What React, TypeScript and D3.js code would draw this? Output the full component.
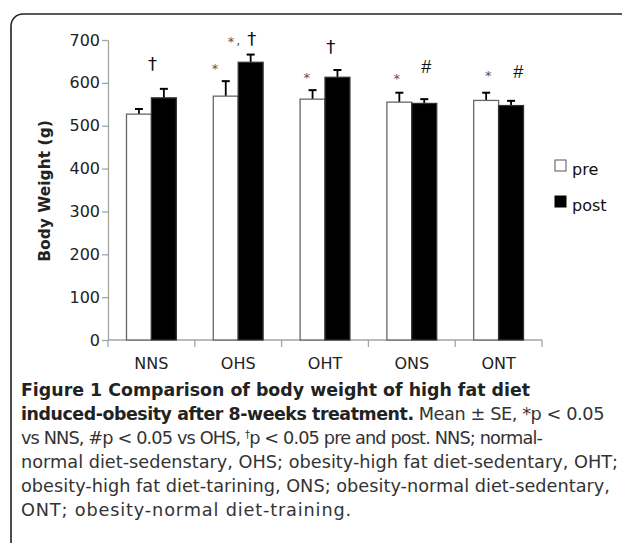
import React, { useEffect, useRef } from "react";
import * as d3 from "d3";

const categories = ["NNS", "OHS", "OHT", "ONS", "ONT"];
const series = ["pre", "post"];
const preMean = [527, 569, 562, 555, 559];
const preSE = [12, 35, 21, 22, 18];
const postMean = [565, 648, 613, 552, 547];
const postSE = [21, 18, 17, 10, 11];
const yTicks = [0, 100, 200, 300, 400, 500, 600, 700];

// significance marks: slot is in bar widths from group centre, level in grams
const marks = [
  { cat: "NNS", text: "†", slot: 0.04, level: 643 },
  { cat: "OHS", text: "*", slot: -0.93, level: 642 },
  { cat: "OHS", text: "*", slot: -0.29, level: 705 },
  { cat: "OHS", text: ",", slot: 0.0, level: 690 },
  { cat: "OHS", text: "†", slot: 0.54, level: 701 },
  { cat: "OHT", text: "*", slot: -0.73, level: 621 },
  { cat: "OHT", text: "†", slot: 0.23, level: 682 },
  { cat: "ONS", text: "*", slot: -0.6, level: 618 },
  { cat: "ONS", text: "#", slot: 0.57, level: 637 },
  { cat: "ONT", text: "*", slot: -0.42, level: 626 },
  { cat: "ONT", text: "#", slot: 0.78, level: 626 },
];

// caption lines: pieces of [text, style], and the x where each printed line ends
const captionLines = [
  { end: 530, parts: [["Figure 1 Comparison of body weight of high fat diet", "b"]] },
  {
    end: 604,
    parts: [
      ["induced-obesity after 8-weeks treatment.", "b"],
      [" Mean ± SE, *p < 0.05", "r"],
    ],
  },
  {
    end: 542,
    parts: [
      ["vs NNS, #p < 0.05 vs OHS, ", "r"],
      ["†", "sup"],
      ["p < 0.05 pre and post. NNS; normal-", "r"],
    ],
  },
  { end: 618, parts: [["normal diet-sedenstary, OHS; obesity-high fat diet-sedentary, OHT;", "r"]] },
  { end: 610, parts: [["obesity-high fat diet-tarining, ONS; obesity-normal diet-sedentary,", "r"]] },
  { end: 352, parts: [["ONT; obesity-normal diet-training.", "r"]] },
];

const App = () => {
  const svgRef = useRef(null);

  useEffect(() => {
    const svg = d3.select(svgRef.current);
    svg.selectAll("*").remove();

    const W = 622;
    const H = 543;
    const left = 108;
    const right = 542;
    const top = 40;
    const bottom = 340;
    const font = "DejaVu Sans, sans-serif";
    const capFont = "'DejaVu Sans', sans-serif";

    svg.append("rect").attr("width", W).attr("height", H).attr("fill", "#fff");

    // frame of the figure panel (only top and left edges are in view)
    svg
      .append("path")
      .attr("d", `M11,${H + 2} V26 A12,12 0 0 1 23,14 H${W + 2}`)
      .attr("fill", "none")
      .attr("stroke", "#222")
      .attr("stroke-width", 1.6);

    const x0 = d3.scaleBand().domain(categories).range([left, right]);
    const bw = x0.bandwidth();
    const x1 = d3
      .scaleBand()
      .domain(series)
      .range([bw * 0.213, bw * 0.787]);
    const y = d3.scaleLinear().domain([0, 700]).range([bottom, top]);

    const axisColor = "#a5a5a5";

    // y axis
    const yAxis = svg
      .append("g")
      .attr("transform", `translate(${left},0)`)
      .call(d3.axisLeft(y).tickValues(yTicks).tickSize(6).tickSizeOuter(0).tickPadding(2));
    yAxis.select(".domain").attr("stroke", axisColor).attr("stroke-width", 1.3);
    yAxis.selectAll(".tick line").attr("stroke", axisColor).attr("stroke-width", 1.3);
    yAxis
      .selectAll(".tick text")
      .attr("font-family", font)
      .attr("font-size", 16)
      .attr("fill", "#222");

    // x axis with ticks between groups
    const xg = svg.append("g");
    xg.append("line")
      .attr("x1", left)
      .attr("x2", right)
      .attr("y1", bottom)
      .attr("y2", bottom)
      .attr("stroke", axisColor)
      .attr("stroke-width", 1.3);
    const bounds = categories.map((c) => x0(c)).concat([right]);
    xg.selectAll(".xt")
      .data(bounds)
      .enter()
      .append("line")
      .attr("x1", (d) => d)
      .attr("x2", (d) => d)
      .attr("y1", bottom)
      .attr("y2", bottom + 7)
      .attr("stroke", axisColor)
      .attr("stroke-width", 1.3);
    xg.selectAll(".xl")
      .data(categories)
      .enter()
      .append("text")
      .attr("x", (d) => x0(d) + bw / 2)
      .attr("y", 369)
      .attr("text-anchor", "middle")
      .attr("font-family", font)
      .attr("font-size", 16)
      .attr("fill", "#222")
      .text((d) => d);

    // y label
    svg
      .append("text")
      .attr("transform", `translate(50,191) rotate(-90)`)
      .attr("text-anchor", "middle")
      .attr("font-family", font)
      .attr("font-weight", "bold")
      .attr("font-size", 15.5)
      .attr("fill", "#222")
      .text("Body Weight (g)");

    const rows = categories.map((c, i) => ({
      cat: c,
      vals: [
        { key: "pre", mean: preMean[i], se: preSE[i] },
        { key: "post", mean: postMean[i], se: postSE[i] },
      ],
    }));

    const groups = svg
      .selectAll(".grp")
      .data(rows)
      .enter()
      .append("g")
      .attr("transform", (d) => `translate(${x0(d.cat)},0)`);

    const bars = groups
      .selectAll(".bar")
      .data((d) => d.vals)
      .enter()
      .append("g");

    // error bars (upper only)
    bars
      .append("line")
      .attr("x1", (d) => x1(d.key) + x1.bandwidth() / 2)
      .attr("x2", (d) => x1(d.key) + x1.bandwidth() / 2)
      .attr("y1", (d) => y(d.mean))
      .attr("y2", (d) => y(d.mean + d.se))
      .attr("stroke", "#000")
      .attr("stroke-width", 1.8);
    bars
      .append("line")
      .attr("x1", (d) => x1(d.key) + x1.bandwidth() / 2 - 4)
      .attr("x2", (d) => x1(d.key) + x1.bandwidth() / 2 + 4)
      .attr("y1", (d) => y(d.mean + d.se))
      .attr("y2", (d) => y(d.mean + d.se))
      .attr("stroke", "#000")
      .attr("stroke-width", 2);

    bars
      .append("rect")
      .attr("x", (d) => x1(d.key))
      .attr("width", x1.bandwidth())
      .attr("y", (d) => y(d.mean))
      .attr("height", (d) => bottom - y(d.mean))
      .attr("fill", (d) => (d.key === "pre" ? "#fff" : "#000"))
      .attr("stroke", (d) => (d.key === "pre" ? "#666" : "#333"))
      .attr("stroke-width", 1.3);

    // significance marks
    const baseShift = { "*": 0.62, "†": 0.32, "#": 0.36, ",": 0.05 };
    const sizes = { "*": 13, "†": 18, "#": 18, ",": 13 };
    svg
      .selectAll(".mark")
      .data(marks)
      .enter()
      .append("text")
      .attr("x", (d) => x0(d.cat) + bw / 2 + d.slot * x1.bandwidth())
      .attr("y", (d) => y(d.level) + baseShift[d.text] * sizes[d.text])
      .attr("text-anchor", "middle")
      .attr("font-family", (d) =>
        d.text === "#" ? "'Liberation Sans', sans-serif" : font
      )
      .attr("font-size", (d) => sizes[d.text])
      .attr("font-style", (d) => (d.text === "#" ? "italic" : "normal"))
      .attr("fill", (d) => (d.text === "*" || d.text === "," ? "#555" : "#111"))
      .text((d) => d.text);

    // legend
    const leg = svg
      .selectAll(".leg")
      .data(series)
      .enter()
      .append("g")
      .attr("transform", (d, i) => `translate(555,${160 + i * 36})`);
    leg
      .append("rect")
      .attr("width", 11)
      .attr("height", 11)
      .attr("fill", (d) => (d === "pre" ? "#fff" : "#000"))
      .attr("stroke", (d) => (d === "pre" ? "#555" : "#000"))
      .attr("stroke-width", 1);
    leg
      .append("text")
      .attr("x", 17)
      .attr("y", 15)
      .attr("font-family", font)
      .attr("font-size", 16)
      .attr("fill", "#111")
      .text((d) => d);

    // caption: sizes fitted to the printed line widths, then per-line letter-spacing
    const lx = 21;
    const ly = 396;
    const lh = 24;
    const measure = (txt, weight) => {
      const t = svg
        .append("text")
        .attr("font-family", capFont)
        .attr("font-size", 16)
        .attr("font-weight", weight)
        .text(txt);
      const w = t.node().getComputedTextLength();
      t.remove();
      return w;
    };
    const boldSize = (16 * (captionLines[0].end - lx)) / measure(captionLines[0].parts[0][0], "bold");
    const regSize = (16 * (captionLines[3].end - lx)) / measure(captionLines[3].parts[0][0], "normal");

    captionLines.forEach((line, i) => {
      const t = svg
        .append("text")
        .attr("x", lx)
        .attr("y", ly + i * lh)
        .attr("font-family", capFont)
        .attr("font-size", regSize)
        .attr("fill", "#333");
      line.parts.forEach(([txt, style]) => {
        const s = t.append("tspan").text(txt);
        if (style === "b") s.attr("font-weight", "bold").attr("font-size", boldSize).attr("fill", "#222");
        if (style === "sup") s.attr("font-size", 10).attr("dy", -6);
        if (style === "r" && line.parts.some((p) => p[1] === "sup") && txt.startsWith("p")) s.attr("dy", 6);
      });
      const natural = t.node().getComputedTextLength();
      const chars = line.parts.reduce((a, p) => a + p[0].length, 0);
      const ls = (line.end - lx - natural) / chars;
      t.attr("letter-spacing", ls);
    });
  }, []);

  return (
    <svg
      ref={svgRef}
      width={622}
      height={543}
      style={{ position: "absolute", left: 0, top: 0 }}
    ></svg>
  );
};

export default App;
